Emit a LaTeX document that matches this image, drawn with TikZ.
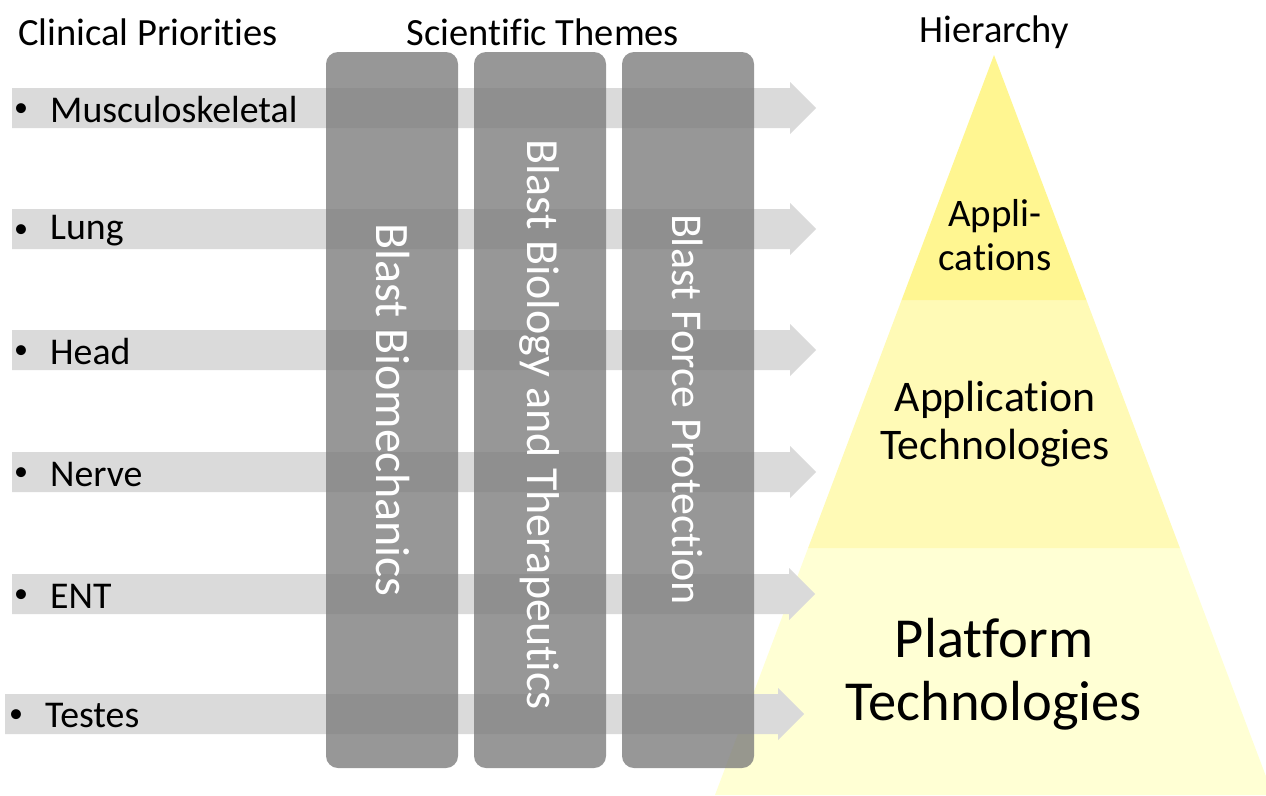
\documentclass[tikz,border=0pt]{standalone}
\usepackage{fontspec}
\setmainfont{Carlito}[Ligatures={NoCommon}]
\newcommand{\NoLg}{\kern0pt\relax}
\definecolor{arrgray}{RGB}{218,218,218}
\definecolor{colgray}{RGB}{125,125,125}
\definecolor{ytop}{RGB}{255,246,145}
\definecolor{ymid}{RGB}{255,250,182}
\definecolor{ybot}{RGB}{255,255,212}
\begin{document}
\begin{tikzpicture}[x=1pt,y=-1pt,
  arrowbar/.style={fill=arrgray},
  colbox/.style={fill=colgray,opacity=0.8,rounded corners=12pt},
  coltext/.style={text=white,rotate=-90,inner sep=0},
  title/.style={font=\fontsize{38.5}{42}\selectfont,inner sep=0},
  lab/.style={font=\fontsize{37.8}{42}\selectfont,anchor=west,inner sep=0},
  bul/.style={font=\fontsize{28}{32}\selectfont,inner sep=0},
  pyrtext/.style={align=center,inner sep=0}]
\useasboundingbox (0,0) rectangle (1266,795);
% pyramid
\begin{scope}
\clip (0,0) rectangle (1266,795);
\fill[ybot] (808.1,548) -- (1179.9,548) -- (1273,795) -- (715,795) -- cycle;
\fill[ymid] (901.6,300) -- (1086.4,300) -- (1179.9,548) -- (808.1,548) -- cycle;
\fill[ytop] (994,55) -- (1086.4,300) -- (901.6,300) -- cycle;
\end{scope}
% titles
\node[title] (t1) at (148,32) {Clinical Priorit\NoLg ies};
\node[title] (t2) at (543,32) {Scient\NoLg if\NoLg ic Themes};
\node[title] (t3) at (994,32) {Hierarchy};
% arrows
\foreach \yc/\xs/\xb/\xt in {108/12/790/816, 229/12/790/816, 350/12/790/816, 472/12/790/816, 594/12/789/815, 714/5/778/804}{
  \fill[arrowbar] (\xs,\yc-20) -- (\xb,\yc-20) -- (\xb,\yc-26) -- (\xt,\yc) -- (\xb,\yc+26) -- (\xb,\yc+20) -- (\xs,\yc+20) -- cycle;
}
% labels
\node[bul] (b1) at (21,110) {•};
\node[lab] (l1) at (50,110) {Musculoskeletal};
\node[bul] (b2) at (21,231) {•};
\node[lab] (l2) at (50,231) {Lung};
\node[bul] (b3) at (21,352) {•};
\node[lab] (l3) at (50,352) {Head};
\node[bul] (b4) at (21,474) {•};
\node[lab] (l4) at (50,474) {Nerve};
\node[bul] (b5) at (21,596) {•};
\node[lab] (l5) at (50,596) {ENT};
\node[bul] (b6) at (16,716) {•};
\node[lab] (l6) at (45,716) {Testes};
% columns
\fill[colbox] (326,52) rectangle (458,768);
\fill[colbox] (474,52) rectangle (606,768);
\fill[colbox] (622,52) rectangle (754,768);
\node[coltext,font=\fontsize{48}{52}\selectfont] (c1) at (393,410) {Blast Biomechanics};
\node[coltext,font=\fontsize{46}{50}\selectfont] (c2) at (540,424.5) {Blast Biology and Therapeut\NoLg ics};
\node[coltext,font=\fontsize{44}{48}\selectfont] (c3) at (688,409.5) {Blast Force Protect\NoLg ion};
% pyramid labels
\node[pyrtext,font=\fontsize{39}{44}\selectfont] (p1) at (995,235) {Appli-\\cat\NoLg ions};
\node[pyrtext,font=\fontsize{43.7}{48}\selectfont] (p2) at (995,424) {Applicat\NoLg ion\\Technologies};
\node[pyrtext,font=\fontsize{56.5}{63}\selectfont] (p3) at (994,674) {Platform\\Technologies};
\end{tikzpicture}
\end{document}
